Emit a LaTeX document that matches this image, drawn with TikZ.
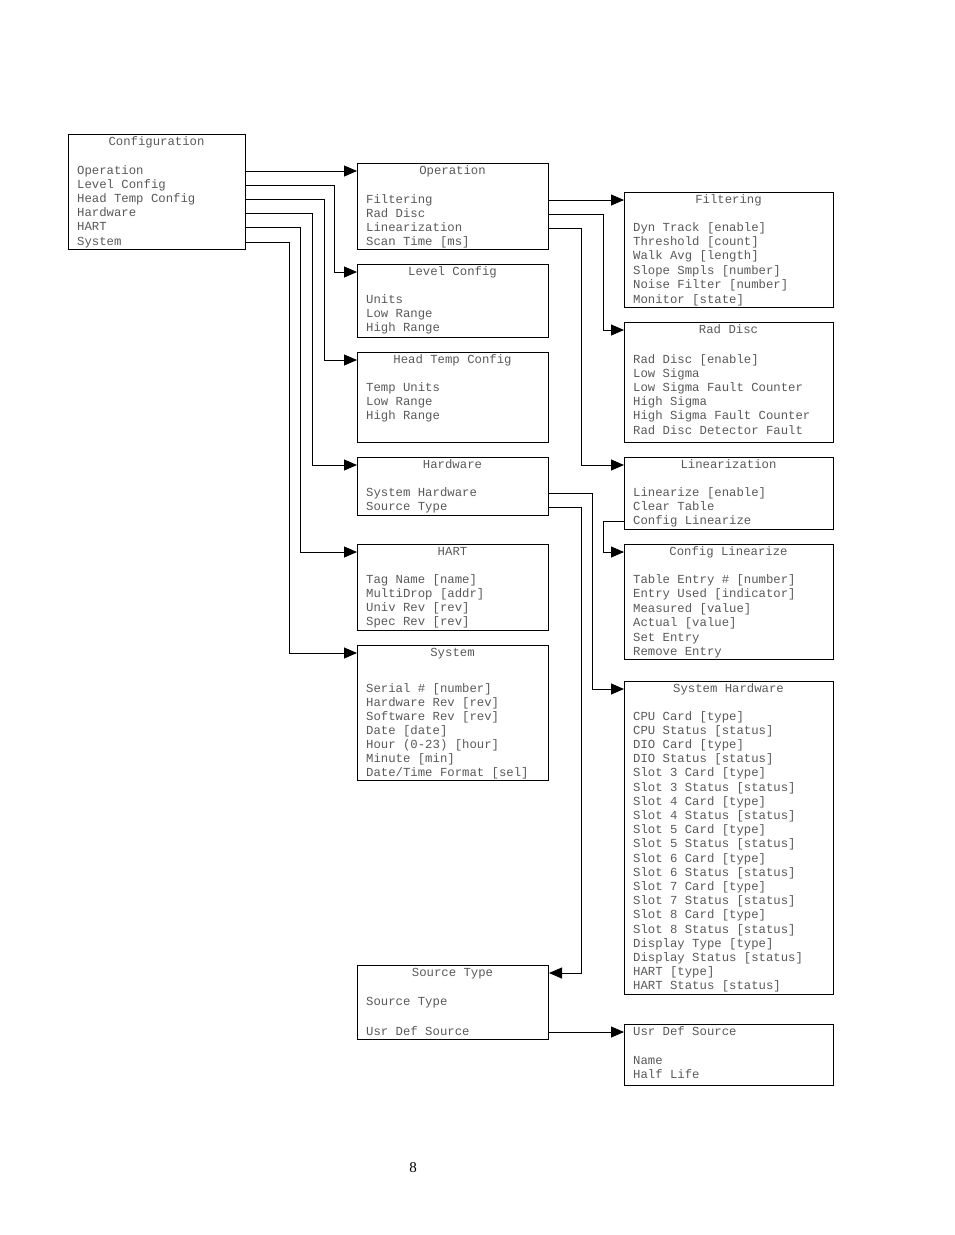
\documentclass[tikz,border=0pt]{standalone}
\usepackage{fontspec}
\setmainfont{Liberation Serif}
\newfontfamily\boxfont{Liberation Mono}
\usetikzlibrary{arrows.meta}
\begin{document}
\begin{tikzpicture}[x=1pt,y=-1pt,
  box/.style={draw=black, line width=1pt, anchor=north west, inner sep=0pt, fill=none},
  item/.style={anchor=west, inner sep=0pt, yshift=-1pt, text height=8.5pt, text depth=2.5pt, text=black!65, font=\boxfont\fontsize{12.3}{14.2}\selectfont},
  ttl/.style={item, anchor=center},
  conn/.style={draw=black, line width=0.9pt, -{Triangle[length=13pt,width=11pt]}}]
\useasboundingbox (0,0) rectangle (954,1235);

% ---------- Configuration ----------
\node[box, minimum width=177pt, minimum height=115pt] (cfg) at (68,134) {};
\node[ttl] (cfg-t) at (156.5,141) {Configuration};
\foreach \t [count=\i] in {Operation,Level Config,Head Temp Config,Hardware,HART,System}
  \node[item] (cfg-\i) at (77,{170+14.2*(\i-1)}) {\t};

% ---------- middle column ----------
\node[box, minimum width=191pt, minimum height=86pt] (op) at (357,163) {};
\node[ttl] (op-t) at (452.5,170) {Operation};
\foreach \t [count=\i] in {Filtering,Rad Disc,Linearization,Scan Time [ms]}
  \node[item] (op-\i) at (366,{199+14.2*(\i-1)}) {\t};

\node[box, minimum width=191pt, minimum height=73pt] (lc) at (357,264) {};
\node[ttl] (lc-t) at (452.5,271) {Level Config};
\foreach \t [count=\i] in {Units,Low Range,High Range}
  \node[item] (lc-\i) at (366,{299+14.4*(\i-1)}) {\t};

\node[box, minimum width=191pt, minimum height=90pt] (ht) at (357,352) {};
\node[ttl] (ht-t) at (452.5,359) {Head Temp Config};
\foreach \t [count=\i] in {Temp Units,Low Range,High Range}
  \node[item] (ht-\i) at (366,{387+14.2*(\i-1)}) {\t};

\node[box, minimum width=191pt, minimum height=58pt] (hw) at (357,457) {};
\node[ttl] (hw-t) at (452.5,464) {Hardware};
\foreach \t [count=\i] in {System Hardware,Source Type}
  \node[item] (hw-\i) at (366,{492+14.2*(\i-1)}) {\t};

\node[box, minimum width=191pt, minimum height=86pt] (hart) at (357,544) {};
\node[ttl] (hart-t) at (452.5,551) {HART};
\foreach \t [count=\i] in {Tag Name [name],MultiDrop [addr],Univ Rev [rev],Spec Rev [rev]}
  \node[item] (hart-\i) at (366,{579+14.3*(\i-1)}) {\t};

\node[box, minimum width=191pt, minimum height=135pt] (sys) at (357,645) {};
\node[ttl] (sys-t) at (452.5,652) {System};
\foreach \t [count=\i] in {Serial \# [number],Hardware Rev [rev],Software Rev [rev],Date [date],Hour (0-23) [hour],Minute [min],Date/Time Format [sel]}
  \node[item] (sys-\i) at (366,{688+14.0*(\i-1)}) {\t};

\node[box, minimum width=191pt, minimum height=74pt] (st) at (357,965) {};
\node[ttl] (st-t) at (452.5,972) {Source Type};
\node[item] (st-1) at (366,1001) {Source Type};
\node[item] (st-2) at (366,1031) {Usr Def Source};

% ---------- right column ----------
\node[box, minimum width=209pt, minimum height=115pt] (filt) at (624,192) {};
\node[ttl] (filt-t) at (728.5,199) {Filtering};
\foreach \t [count=\i] in {Dyn Track [enable],Threshold [count],Walk Avg [length],Slope Smpls [number],Noise Filter [number],Monitor [state]}
  \node[item] (filt-\i) at (633,{227+14.4*(\i-1)}) {\t};

\node[box, minimum width=209pt, minimum height=120pt] (rd) at (624,322) {};
\node[ttl] (rd-t) at (728.5,329) {Rad Disc};
\foreach \t [count=\i] in {Rad Disc [enable],Low Sigma,Low Sigma Fault Counter,High Sigma,High Sigma Fault Counter,Rad Disc Detector Fault}
  \node[item] (rd-\i) at (633,{359+14.2*(\i-1)}) {\t};

\node[box, minimum width=209pt, minimum height=72pt] (lin) at (624,457) {};
\node[ttl] (lin-t) at (728.5,464) {Linearization};
\foreach \t [count=\i] in {Linearize [enable],Clear Table,Config Linearize}
  \node[item] (lin-\i) at (633,{492+14.4*(\i-1)}) {\t};

\node[box, minimum width=209pt, minimum height=115pt] (cl) at (624,544) {};
\node[ttl] (cl-t) at (728.5,551) {Config Linearize};
\foreach \t [count=\i] in {Table Entry \# [number],Entry Used [indicator],Measured [value],Actual [value],Set Entry,Remove Entry}
  \node[item] (cl-\i) at (633,{579+14.5*(\i-1)}) {\t};

\node[box, minimum width=209pt, minimum height=313pt] (sh) at (624,681) {};
\node[ttl] (sh-t) at (728.5,688) {System Hardware};
\foreach \t [count=\i] in {CPU Card [type],CPU Status [status],DIO Card [type],DIO Status [status],
  Slot 3 Card [type],Slot 3 Status [status],Slot 4 Card [type],Slot 4 Status [status],
  Slot 5 Card [type],Slot 5 Status [status],Slot 6 Card [type],Slot 6 Status [status],
  Slot 7 Card [type],Slot 7 Status [status],Slot 8 Card [type],Slot 8 Status [status],
  Display Type [type],Display Status [status],HART [type],HART Status [status]}
  \node[item] (sh-\i) at (633,{716+14.2*(\i-1)}) {\t};

\node[box, minimum width=209pt, minimum height=61pt] (uds) at (624,1024) {};
\node[item] (uds-t) at (633,1031) {Usr Def Source};
\node[item] (uds-1) at (633,1060) {Name};
\node[item] (uds-2) at (633,1074) {Half Life};

% ---------- connectors ----------
\draw[conn] (cfg-1 -| cfg.east) -- (op-t -| op.west);
\draw[conn] (cfg-2 -| cfg.east) -- ++(88,0) |- (lc-t -| lc.west);
\draw[conn] (cfg-3 -| cfg.east) -- ++(78,0) |- (ht-t -| ht.west);
\draw[conn] (cfg-4 -| cfg.east) -- ++(66,0) |- (hw-t -| hw.west);
\draw[conn] (cfg-5 -| cfg.east) -- ++(54,0) |- (hart-t -| hart.west);
\draw[conn] (cfg-6 -| cfg.east) -- ++(43,0) |- (sys-t -| sys.west);

\draw[conn] (op-1 -| op.east) -- (filt-t -| filt.west);
\draw[conn] (op-2 -| op.east) -- ++(54,0) |- (rd-t -| rd.west);
\draw[conn] (op-3 -| op.east) -- ++(32,0) |- (lin-t -| lin.west);

\draw[conn] (hw-1 -| hw.east) -- ++(43,0) |- (sh-t -| sh.west);
\draw[conn] (hw-2 -| hw.east) -- ++(32,0) |- (st-t -| st.east);

\draw[conn] (lin-3 -| lin.west) -- ++(-21,0) |- (cl-t -| cl.west);
\draw[conn] (st-2 -| st.east) -- (uds-t -| uds.west);

% page number
\node[inner sep=0pt, font=\fontsize{15}{17}\selectfont] (pg) at (413,1168) {8};
\end{tikzpicture}
\end{document}
